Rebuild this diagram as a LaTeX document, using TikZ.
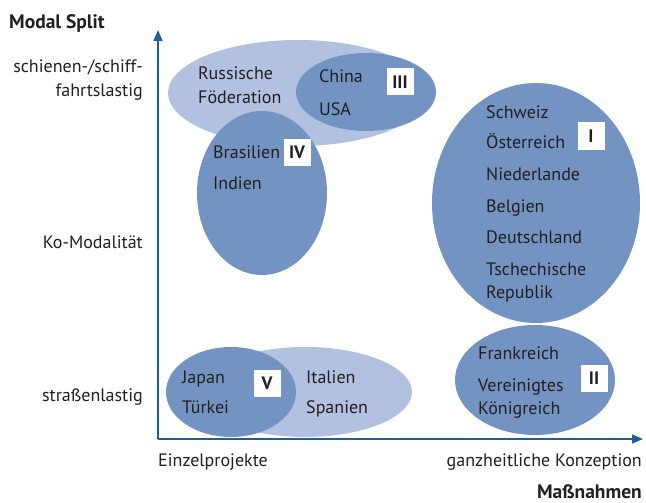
\documentclass[tikz,border=0pt]{standalone}
\usepackage{fontspec}
\setmainfont{PT Sans}
\usetikzlibrary{arrows.meta}
\definecolor{axisblue}{HTML}{1F5E9E}
\definecolor{darkfill}{HTML}{7394C2}
\definecolor{lightfill}{HTML}{B1C1DF}
\definecolor{txt}{HTML}{231F20}
\tikzset{
  ctry/.style={anchor=base west, inner sep=0pt, text=txt, font=\fontsize{18}{20}\selectfont},
  axlbl/.style={inner sep=0pt, text=txt, font=\fontsize{18}{20}\selectfont},
  ttl/.style={inner sep=0pt, text=txt, font=\fontsize{19.5}{22}\selectfont\bfseries},
  numbox/.style={fill=white, minimum width=27pt, minimum height=27pt, inner sep=0pt, text=txt, font=\fontsize{18}{20}\selectfont\bfseries},
  darkell/.style={fill=darkfill},
  lightell/.style={fill=lightfill},
  axis/.style={draw=axisblue, line width=1.6pt, -{Triangle[length=11pt,width=9pt]}}
}
\begin{document}
\begin{tikzpicture}[x=1pt,y=-1pt]
\useasboundingbox (0,0) rectangle (646,503);
% ellipses
\fill[lightell] (298,93) ellipse [x radius=130, y radius=53];
\fill[darkell] (366,92) ellipse [x radius=70, y radius=39];
\fill[darkell] (262,193) ellipse [x radius=65, y radius=82];
\fill[darkell] (536,203) ellipse [x radius=104, y radius=120];
\fill[darkell] (535,380) ellipse [x radius=80, y radius=55];
\fill[lightell] (305,392) ellipse [x radius=107, y radius=45];
\fill[darkell] (231,392) ellipse [x radius=65, y radius=45];
% axes
\coordinate (o) at (158,439);
\coordinate (ytip) at (158,30);
\coordinate (xtip) at (643,439);
\draw[axis] (o) -- (ytip);
\draw[axis] (o) -- (xtip);
% axis labels
\node[ttl, anchor=base west] (modal) at (9,29) {Modal Split};
\node[axlbl, anchor=base east] (schiene) at (143,73) {schienen-/schiff-};
\node[axlbl, anchor=base east] (fahrt) at (143,97) {fahrtslastig};
\node[axlbl, anchor=base east] (ko) at (143,248) {Ko-Modalität};
\node[axlbl, anchor=base east] (strasse) at (143,401) {straßenlastig};
\node[axlbl, anchor=base west] (einzel) at (158,466) {Einzelprojekte};
\node[axlbl, anchor=base east] (ganz) at (642,466) {ganzheitliche Konzeption};
\node[ttl, anchor=base east] (mass) at (642,498) {Maßnahmen};
% group III
\node[ctry] (rus1) at (198,80) {Russische};
\node[ctry] (rus2) at (198,103) {Föderation};
\node[ctry] (china) at (319,83) {China};
\node[ctry] (usa) at (319,115) {USA};
\node[numbox] (nIII) at (400,82) {III};
% group IV
\node[ctry] (bra) at (213,158) {Brasilien};
\node[ctry] (ind) at (213,189) {Indien};
\node[numbox] (nIV) at (297,152) {IV};
% group I
\node[ctry] (ch) at (486,118) {Schweiz};
\node[ctry] (at) at (486,149) {Österreich};
\node[ctry] (nl) at (486,180) {Niederlande};
\node[ctry] (be) at (486,212) {Belgien};
\node[ctry] (de) at (486,243) {Deutschland};
\node[ctry] (cz1) at (486,275) {Tschechische};
\node[ctry] (cz2) at (486,298) {Republik};
\node[numbox] (nI) at (591,136) {I};
% group II
\node[ctry] (fr) at (478,359) {Frankreich};
\node[ctry] (uk1) at (478,391) {Vereinigtes};
\node[ctry] (uk2) at (478,414) {Königreich};
\node[numbox] (nII) at (594,378) {II};
% group V
\node[ctry] (jp) at (182,383) {Japan};
\node[ctry] (tr) at (182,413) {Türkei};
\node[ctry] (it) at (306,383) {Italien};
\node[ctry] (es) at (306,413) {Spanien};
\node[numbox] (nV) at (267,383) {V};
\end{tikzpicture}
\end{document}
